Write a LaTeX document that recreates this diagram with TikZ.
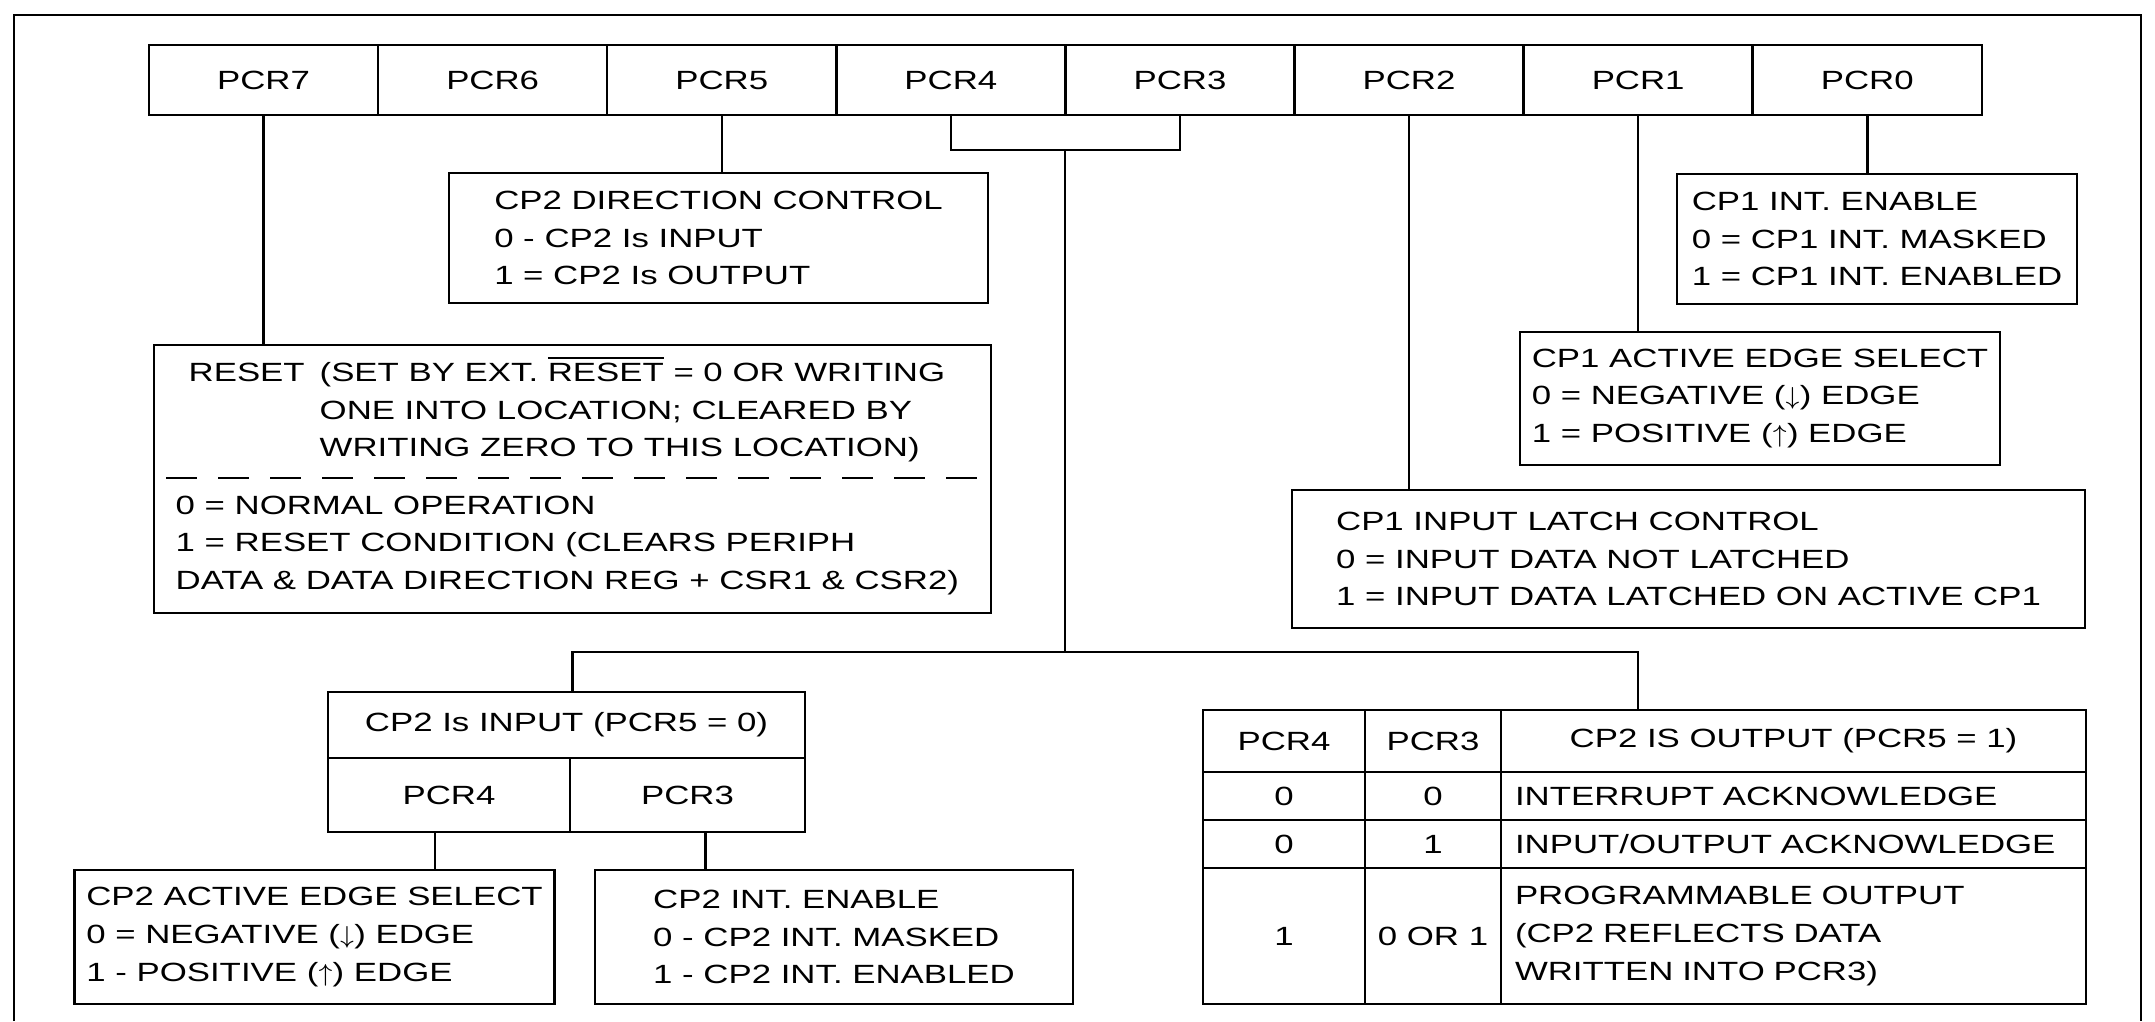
\documentclass[tikz,border=0pt]{standalone}
\usepackage{fontspec}
\setmainfont{Liberation Sans}[FakeStretch=1.32]

\begin{document}
\begin{tikzpicture}[
  x=0.1mm,
  y=-0.1mm,
  font=\fontsize{7.5}{10.7}\selectfont,
  frame/.style={draw,line width=0.6pt},
  wire/.style={draw,line width=0.7pt},
  cell/.style={draw,line width=0.7pt,inner sep=0pt,align=center},
  note/.style={draw,line width=0.7pt,inner ysep=0pt,align=left},
  tcell/.style={draw,line width=0.7pt,inner ysep=0pt,inner xsep=1.4mm,text width=55.7mm,align=left},
  divider/.style={draw,line width=0.7pt,dash pattern=on 3.1mm off 2.1mm}
]
  \useasboundingbox (0,0) rectangle (2155,1021);

  % Outer frame, open at the bottom edge.
  \draw[frame] (14,1021) -- (14,15) -- (2141,15) -- (2141,1021);

  % Control register bits.
  \foreach \b [count=\k] in {7,6,...,0} {
    \node[cell,minimum width=22.91mm,minimum height=7mm] (pcr\b) at ({149+229.1*(\k-0.5)},80) {PCR\b};
  }

  % Junction points of the PCR4/PCR3 tree.
  \coordinate (brace) at (1065,150);
  \coordinate (fork) at (1065,652);
  \coordinate (tbltop) at (1638,710);
  \coordinate (dashl) at (166,478);

  % Bit descriptions.
  \node[note,minimum width=53.9mm,minimum height=13mm] (dirctl) at (718.5,238)
    {CP2 DIRECTION CONTROL\\0 - CP2 Is INPUT\\1 = CP2 Is OUTPUT};
  \node[note,minimum width=40mm,minimum height=13mm] (cp1int) at (1877,239)
    {CP1 INT. ENABLE\\0 = CP1 INT. MASKED\\1 = CP1 INT. ENABLED};
  \node[note,minimum width=48mm,minimum height=13.3mm] (cp1edge) at (1760,398.5)
    {CP1 ACTIVE EDGE SELECT\\0 = NEGATIVE ($\downarrow$) EDGE\\1 = POSITIVE ($\uparrow$) EDGE};
  \node[note,minimum width=79.3mm,minimum height=13.8mm] (latch) at (1688.5,559)
    {CP1 INPUT LATCH CONTROL\\0 = INPUT DATA NOT LATCHED\\1 = INPUT DATA LATCHED ON ACTIVE CP1};

  % Reset bit: heading above the dashed rule, states below it.
  \node[note,minimum width=83.7mm,minimum height=26.8mm] (reset) at (572.5,479) {};
  \node[anchor=west,inner sep=0pt] (rsthead) at (188,411.5)
    {\begin{tabular}{@{}p{13.1mm}@{}l@{}}
      RESET & (SET BY EXT. $\overline{\mbox{RESET}}$ = 0 OR WRITING\\
            & ONE INTO LOCATION; CLEARED BY\\
            & WRITING ZERO TO THIS LOCATION)
     \end{tabular}};
  \node[anchor=west,inner sep=0pt,align=left] (rstbody) at (175,545.5)
    {0 = NORMAL OPERATION\\1 = RESET CONDITION (CLEARS PERIPH\\DATA \& DATA DIRECTION REG + CSR1 \& CSR2)};
  \draw[divider] (dashl) -- (dashl -| reset.east);

  % CP2 as input.
  \node[cell,minimum width=47.7mm,minimum height=6.6mm] (inhdr) at (566.5,725) {CP2 Is INPUT (PCR5 = 0)};
  \node[cell,minimum width=24.2mm,minimum height=7.4mm] (inpcr4) at (449,795) {PCR4};
  \node[cell,minimum width=23.5mm,minimum height=7.4mm] (inpcr3) at (687.5,795) {PCR3};
  \node[note,minimum width=47.5mm,minimum height=13.4mm] (cp2edge) at (314.5,937)
    {CP2 ACTIVE EDGE SELECT\\0 = NEGATIVE ($\downarrow$) EDGE\\1 - POSITIVE ($\uparrow$) EDGE};
  \node[note,minimum width=47.8mm,minimum height=13.4mm] (cp2int) at (834,937)
    {CP2 INT. ENABLE\\0 - CP2 INT. MASKED\\1 - CP2 INT. ENABLED};

  % CP2 as output.
  \foreach \r/\yc/\h/\a/\c in {hd/741/6.2/PCR4/PCR3,ra/796/4.8/0/0,rb/844/4.8/0/1,rc/936/13.6/1/0 OR 1} {
    \node[cell,minimum width=16.2mm,minimum height=\h mm] (\r4) at (1284,\yc) {\a};
    \node[cell,minimum width=13.6mm,minimum height=\h mm] (\r3) at (1433,\yc) {\c};
  }
  \node[cell,minimum width=58.5mm,minimum height=6.2mm] (hdout) at (1793.5,741) {CP2 IS OUTPUT (PCR5 = 1)};
  \node[tcell,minimum height=4.8mm] (raout) at (1793.5,796) {INTERRUPT ACKNOWLEDGE};
  \node[tcell,minimum height=4.8mm] (rbout) at (1793.5,844) {INPUT/OUTPUT ACKNOWLEDGE};
  \node[tcell,minimum height=13.6mm] (rcout) at (1793.5,936)
    {PROGRAMMABLE OUTPUT\\(CP2 REFLECTS DATA\\WRITTEN INTO PCR3)};

  % Leader lines from the register bits.
  \draw[wire] (pcr7.south) -- (pcr7.south |- reset.north);
  \draw[wire] (pcr5.south) -- (pcr5.south |- dirctl.north);
  \draw[wire] (pcr2.south) -- (pcr2.south |- latch.north);
  \draw[wire] (pcr1.south) -- (pcr1.south |- cp1edge.north);
  \draw[wire] (pcr0.south) -- (pcr0.south |- cp1int.north);
  \draw[wire] (pcr4.south) |- (brace) -| (pcr3.south);
  \draw[wire] (brace) -- (fork);
  \draw[wire] ([xshift=0.6mm]inhdr.north) |- (fork) -| (tbltop);
  \draw[wire] ([xshift=-1.4mm]inpcr4.south) -- ([xshift=-1.4mm]inpcr4.south |- cp2edge.north);
  \draw[wire] ([xshift=1.8mm]inpcr3.south) -- ([xshift=1.8mm]inpcr3.south |- cp2int.north);
\end{tikzpicture}
\end{document}
